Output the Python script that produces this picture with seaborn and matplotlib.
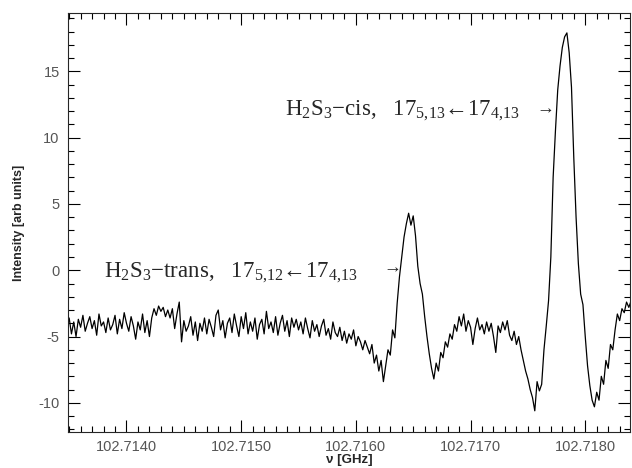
"""
H2S3 rotational spectrum around 102.716 GHz: trans and cis lines.
"""
import numpy as np
import seaborn as sns
from matplotlib import pyplot as plt
from matplotlib.ticker import MultipleLocator, FormatStrFormatter

sns.set_style("ticks")
plt.rcParams['font.family'] = ['Liberation Sans', 'DejaVu Sans']
plt.rcParams['axes.unicode_minus'] = False
plt.rcParams['mathtext.fontset'] = 'custom'
plt.rcParams['mathtext.rm'] = 'Liberation Serif'
plt.rcParams['mathtext.it'] = 'Liberation Serif:italic'

# scan range [GHz]
freq_start = 102.71350
freq_stop = 102.71840

# intensity, one value per 0.00002 GHz [arb units]
intensity = [
    -3.6, -4.8, -3.9, -5.0, -3.7, -4.3, -3.4, -4.6, -4.0, -3.5,
    -4.4, -3.8, -4.9, -3.3, -4.2, -3.9, -4.7, -3.6, -4.5, -4.1,
    -3.4, -4.8, -3.7, -4.4, -3.2, -4.0, -4.6, -3.5, -4.2, -5.2,
    -3.9, -4.5, -3.3, -4.7, -3.8, -5.0, -3.6, -2.9, -3.4, -2.7,
    -3.1, -2.8, -3.5, -3.0, -3.6, -2.9, -4.4, -3.3, -2.4, -5.4,
    -3.8, -4.6, -4.2, -3.5, -4.9, -3.9, -5.3, -4.0, -4.6, -3.6,
    -4.8, -3.7, -4.3, -5.0, -3.4, -3.0, -4.5, -3.8, -5.1, -4.0,
    -3.6, -4.7, -3.3, -4.2, -5.0, -3.5, -4.4, -3.2, -4.8, -3.9,
    -4.6, -3.6, -5.2, -4.1, -3.7, -4.8, -3.1, -4.4, -3.9, -4.7,
    -3.5, -4.9, -4.0, -3.4, -4.6, -3.8, -5.0, -3.6, -4.3, -3.7,
    -4.5, -3.9, -4.8, -3.6, -4.4, -5.1, -3.8, -4.6, -4.1, -5.0,
    -4.2, -3.7, -4.9, -4.4, -5.2, -3.9, -4.7, -5.0, -4.3, -5.3,
    -4.6, -5.5, -4.8, -5.2, -4.5, -5.7, -5.0, -5.4, -6.0, -5.3,
    -5.8, -6.3, -5.6, -7.0, -6.4, -7.6, -6.8, -8.4, -7.2, -6.0,
    -6.4, -4.5, -5.1, -2.5, -0.5, 1.0, 2.5, 3.5, 4.3, 3.4,
    4.1, 2.6, 0.3, -1.0, -1.8, -3.5, -5.0, -6.3, -7.4, -8.2,
    -7.0, -7.6, -6.2, -6.6, -5.4, -5.8, -4.8, -5.2, -4.1, -4.6,
    -3.5, -4.2, -3.3, -4.6, -3.8, -4.3, -5.6, -4.4, -3.6, -4.5,
    -4.1, -4.8, -3.9, -4.6, -4.0, -5.0, -6.2, -4.2, -4.7, -3.9,
    -4.5, -3.8, -4.9, -5.3, -4.6, -5.6, -5.0, -6.0, -6.8, -7.6,
    -8.2, -9.0, -9.6, -10.6, -8.4, -9.1, -8.6, -6.0, -4.2, -2.3,
    1.0, 7.0, 10.5, 13.6, 15.4, 16.8, 17.6, 17.9, 16.4, 13.8,
    8.5, 4.0, 0.5, -1.8, -2.6, -5.0, -7.2, -8.7, -9.8, -10.3,
    -9.2, -9.8, -8.0, -8.6, -6.8, -7.4, -5.6, -6.0, -4.5, -3.3,
    -3.8, -2.9, -3.2, -2.4, -2.8, -2.3,
]
freq = np.linspace(freq_start, freq_stop, len(intensity))

# line labels
trans_label = r"H$_2$S$_3$−trans,   17$_{5{,}12}$←17$_{4{,}13}$"
cis_label = r"H$_2$S$_3$−cis,   17$_{5{,}13}$←17$_{4{,}13}$"
serif = ['Liberation Serif', 'DejaVu Serif']

fig = plt.figure(figsize=(6.32, 4.68), dpi=100)
ax = fig.add_axes([0.1076, 0.0769, 0.8892, 0.8953])

sns.lineplot(x=freq, y=intensity, ax=ax, color='black', linewidth=0.9)

ax.set_xlim(102.71349, 102.71839)
ax.set_ylim(-12.2, 19.4)

# ticks on all four sides, pointing in
ax.xaxis.set_major_locator(MultipleLocator(0.001))
ax.xaxis.set_minor_locator(MultipleLocator(0.0001))
ax.xaxis.set_major_formatter(FormatStrFormatter('%.4f'))
ax.yaxis.set_major_locator(MultipleLocator(5))
ax.yaxis.set_minor_locator(MultipleLocator(1))
ax.tick_params(which='both', direction='in', top=True, right=True,
               width=0.8, colors='black', labelcolor='#555555', labelsize=10.5)
ax.tick_params(which='major', length=8.5, pad=6)
ax.tick_params(which='minor', length=4.5, width=0.8)
for s in ax.spines.values():
    s.set_linewidth(0.8)

ax.set_xlabel('ν [GHz]', fontsize=9.5, fontweight='bold', labelpad=0)
ax.set_ylabel('Intensity [arb units]', fontsize=9, fontweight='bold', labelpad=10)

# annotations
ax.text(102.71380, -0.5, trans_label, fontsize=16.5, va='baseline', ha='left', family=serif)
ax.text(102.716315, 0.2, '→', fontsize=13, va='center', ha='center', family=serif)
ax.text(102.71538, 11.7, cis_label, fontsize=16.5, va='baseline', ha='left', family=serif)
ax.text(102.717652, 12.2, '→', fontsize=13, va='center', ha='center', family=serif)

plt.savefig('out.png', dpi=100)
